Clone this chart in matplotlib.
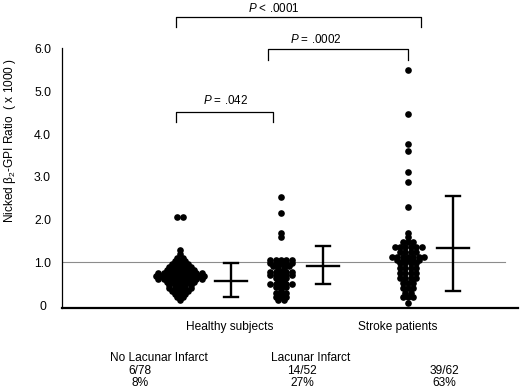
import matplotlib
matplotlib.use("Agg")
import matplotlib.pyplot as plt
import numpy as np

plt.rcParams['font.family'] = ['Liberation Sans', 'DejaVu Sans']
plt.rcParams['mathtext.fontset'] = 'custom'
plt.rcParams['mathtext.rm'] = 'Liberation Sans'
plt.rcParams['mathtext.it'] = 'Liberation Sans:italic'

# ---- data (dot-histogram rows: value level and number of dots) ----
no_lacunar_levels = [2.05, 1.28, 1.20, 1.10, 1.02, 0.95, 0.88, 0.81, 0.74, 0.67,
                     0.60, 0.53, 0.46, 0.39, 0.32, 0.25, 0.18, 0.12]
no_lacunar_counts = [2, 1, 1, 2, 3, 4, 5, 6, 9, 10, 9, 6, 5, 5, 4, 3, 2, 1]

lacunar_levels = [2.53, 2.15, 1.69, 1.59, 1.05, 0.98, 0.91, 0.84, 0.77, 0.70,
                  0.63, 0.56, 0.49, 0.42, 0.35, 0.28, 0.19, 0.12]
lacunar_counts = [1, 1, 1, 1, 5, 5, 4, 2, 5, 5, 3, 2, 5, 3, 1, 3, 3, 2]

stroke_levels = [5.51, 4.47, 3.77, 3.60, 3.12, 2.88, 2.30, 1.69, 1.59, 1.48, 1.36,
                 1.24, 1.12, 1.05, 0.98, 0.87, 0.75, 0.63, 0.52, 0.40, 0.28, 0.19, 0.05]
stroke_counts = [1, 1, 1, 1, 1, 1, 1, 1, 1, 3, 6, 4, 7, 5, 4, 4, 4, 4, 3, 3, 2, 3, 1]

# mean and error-bar limits
err_mean = [0.56, 0.91, 1.34]
err_low = [0.19, 0.49, 0.33]
err_high = [0.98, 1.38, 2.55]

reference_line = 1.0

y_ticks = [0, 1, 2, 3, 4, 5, 6]
y_tick_labels = ["0", "1.0", "2.0", "3.0", "4.0", "5.0", "6.0"]

p_labels = ["$P$ = .042", "$P$ = .0002", "$P$ < .0001"]
group_labels = ["Healthy subjects", "Stroke patients"]
sub_labels = ["No Lacunar Infarct", "Lacunar Infarct"]
ratio_labels = ["6/78\n8%", "14/52\n27%", "39/62\n63%"]

# ---- layout (horizontal positions in pixel-like units) ----
W, H = 520, 390
cluster_x = [180, 281, 408]
errbar_x = [231, 323, 453]
dot_step = 5.4

fig = plt.figure(figsize=(W / 100, H / 100), dpi=100)
ax = fig.add_axes([62 / W, 1 - 308 / H, (518 - 62) / W, 260 / H])
ax.set_xlim(62, 518)
ax.set_ylim(-0.07, 6.02)

# dots
for cx, levels, counts in zip(cluster_x,
                              [no_lacunar_levels, lacunar_levels, stroke_levels],
                              [no_lacunar_counts, lacunar_counts, stroke_counts]):
    xs, ys = [], []
    for lv, n in zip(levels, counts):
        offs = (np.arange(n) - (n - 1) / 2) * dot_step
        xs.extend(cx + offs)
        ys.extend([lv] * n)
    ax.plot(xs, ys, 'o', color='black', markersize=4.8, markeredgewidth=0, zorder=3)

# error bars
for ex, m, lo, hi in zip(errbar_x, err_mean, err_low, err_high):
    ax.plot([ex, ex], [lo, hi], color='black', lw=1.7, zorder=3, solid_capstyle='butt')
    ax.plot([ex - 7, ex + 7], [lo, lo], color='black', lw=1.7, zorder=3)
    ax.plot([ex - 7, ex + 7], [hi, hi], color='black', lw=1.7, zorder=3)
    ax.plot([ex - 16, ex + 16], [m, m], color='black', lw=1.7, zorder=3)

# reference line
ax.plot([62, 505], [reference_line, reference_line], color='#8c8c8c', lw=0.8, zorder=1)

# spines
for s in ['top', 'right']:
    ax.spines[s].set_visible(False)
ax.spines['left'].set_linewidth(0.9)
ax.spines['bottom'].set_linewidth(1.6)
ax.set_xticks([])
ax.set_yticks(y_ticks)
ax.set_yticklabels(y_tick_labels, fontsize=8.8)
ax.tick_params(axis='y', length=0, pad=14)
for lab in ax.get_yticklabels():
    lab.set_ha('center')

# significance brackets: (x_left, x_right, y_bar, y_tick_end, text_x, text_y)
brackets = [
    (176, 273, 4.52, 4.29, 226, 4.80),
    (268, 408, 6.00, 5.74, 316, 6.22),
    (176, 421, 6.75, 6.52, 274, 6.95),
]
for (xl, xr, yb, yt, tx, ty), lab in zip(brackets, p_labels):
    ax.plot([xl, xl, xr, xr], [yt, yb, yb, yt], color='black', lw=0.9, clip_on=False)
    ax.text(tx, ty, lab, ha='center', va='center', fontsize=8.4, clip_on=False)

# y label
fig.text(10 / W, 1 - 141 / H, "Nicked β${}_2$-GPI Ratio  ( x 1000 )",
         rotation=90, ha='center', va='center', fontsize=8.6)

# bottom labels
fig.text(230 / W, 1 - 327 / H, group_labels[0], ha='center', va='center', fontsize=8.6)
fig.text(398 / W, 1 - 327 / H, group_labels[1], ha='center', va='center', fontsize=8.6)
fig.text(159 / W, 1 - 358 / H, sub_labels[0], ha='center', va='center', fontsize=8.6)
fig.text(311 / W, 1 - 358 / H, sub_labels[1], ha='center', va='center', fontsize=8.6)
for x, lab in zip([140, 302, 444], ratio_labels):
    fig.text(x / W, 1 - 377 / H, lab, ha='center', va='center', fontsize=8.6,
             linespacing=1.05, multialignment='center')

fig.savefig("out.png", dpi=100)
